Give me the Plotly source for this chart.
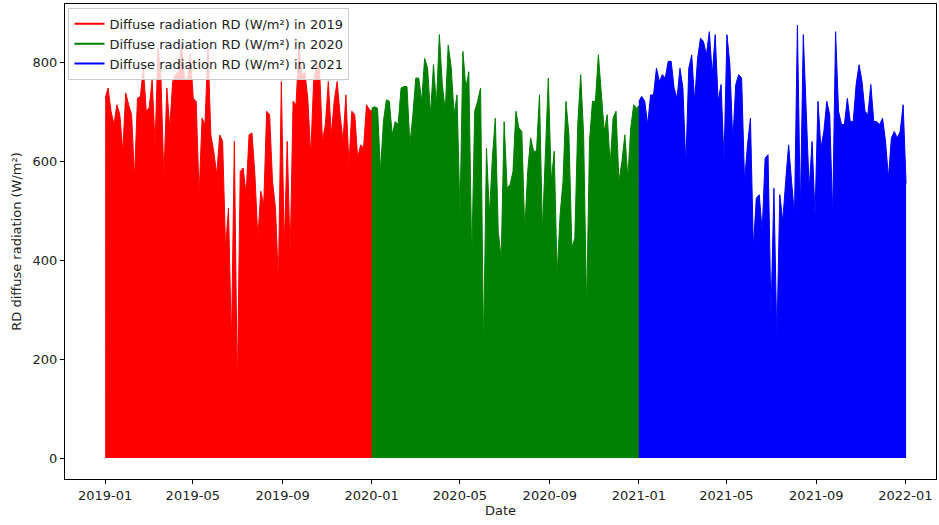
import pandas as pd
import plotly.graph_objects as go

rd_2019 = [728, 749, 702, 675, 715, 695, 620, 739, 715, 695, 567, 728, 732, 790, 702, 709,
           766, 634, 830, 769, 567, 749, 668, 762, 776, 782, 838, 769, 762, 820, 728, 722,
           533, 688, 675, 835, 654, 620, 573, 654, 641, 425, 506, 230, 641, 135, 580, 587,
           533, 654, 658, 573, 445, 540, 513, 702, 695, 560, 506, 358, 762, 425, 641, 412,
           722, 715, 835, 776, 782, 728, 613, 762, 796, 790, 641, 675, 762, 654, 722, 762,
           695, 641, 735, 593, 702, 695, 607, 634, 627, 715, 705, 702]
rd_2020 = [708, 711, 708, 580, 681, 725, 722, 654, 681, 675, 749, 752, 752, 634, 695, 769,
           769, 722, 809, 789, 695, 796, 715, 857, 756, 702, 836, 792, 695, 735, 492, 823,
           749, 782, 400, 702, 722, 749, 220, 627, 492, 607, 688, 458, 404, 681, 546, 553,
           580, 702, 668, 661, 459, 580, 648, 621, 621, 735, 459, 600, 769, 560, 621, 371,
           492, 560, 722, 654, 425, 445, 675, 776, 654, 300, 641, 722, 722, 816, 735, 661,
           695, 593, 688, 702, 560, 600, 654, 567, 668, 715, 708, 715]
rd_2021 = [722, 732, 722, 675, 735, 735, 789, 762, 776, 769, 803, 803, 749, 728, 789, 749,
           594, 789, 816, 722, 809, 850, 843, 816, 863, 776, 857, 722, 756, 601, 857, 796,
           641, 756, 776, 769, 560, 634, 688, 425, 526, 533, 459, 607, 614, 290, 546, 240,
           533, 479, 560, 634, 560, 492, 876, 499, 857, 695, 546, 641, 492, 722, 627, 661,
           722, 695, 492, 863, 702, 675, 675, 728, 681, 681, 756, 796, 762, 702, 695, 756,
           681, 681, 675, 688, 641, 567, 648, 661, 648, 661, 715, 556]

years = [2019, 2020, 2021]
series = [rd_2019, rd_2020, rd_2021]
colors = ["#ff0000", "#008000", "#0000ff"]

fig = go.Figure()
for year, vals, col in zip(years, series, colors):
    dates = pd.date_range(f"{year}-01-01", f"{year + 1}-01-02", periods=len(vals))
    fig.add_trace(go.Scatter(
        x=dates, y=vals, mode="lines",
        line=dict(color=col, width=1),
        fill="tozeroy", fillcolor=col,
        showlegend=False, hoverinfo="skip",
    ))
# legend entries drawn as plain lines, like the original
for year, col in zip(years, colors):
    fig.add_trace(go.Scatter(
        x=[None], y=[None], mode="lines",
        line=dict(color=col, width=2),
        name=f"Diffuse radiation RD (W/m²) in {year}",
    ))

font = dict(family="DejaVu Sans, sans-serif", size=13, color="#222")
fig.update_layout(
    width=939, height=525,
    margin=dict(l=65, r=3, t=4, b=46),
    paper_bgcolor="white", plot_bgcolor="white",
    font=font,
    showlegend=True,
    legend=dict(x=0.004, y=0.992, xanchor="left", yanchor="top",
                bgcolor="rgba(255,255,255,0.8)", bordercolor="#cccccc", borderwidth=1,
                font=dict(family="DejaVu Sans, sans-serif", size=13, color="#222"),
                tracegroupgap=0, itemwidth=30),
)
fig.update_xaxes(
    range=["2018-11-07", "2022-02-12"],
    tickvals=["2019-01-01", "2019-05-01", "2019-09-01", "2020-01-01", "2020-05-01",
              "2020-09-01", "2021-01-01", "2021-05-01", "2021-09-01", "2022-01-01"],
    ticktext=["2019-01", "2019-05", "2019-09", "2020-01", "2020-05",
              "2020-09", "2021-01", "2021-05", "2021-09", "2022-01"],
    showgrid=False, zeroline=False, automargin=False,
    showline=True, linecolor="black", linewidth=1, mirror=True,
    ticks="outside", ticklen=4, tickcolor="black",
    title=dict(text="Date", standoff=4, font=font),
)
fig.update_yaxes(
    range=[-42.5, 919],
    tickvals=[0, 200, 400, 600, 800],
    showgrid=False, zeroline=False, automargin=False,
    showline=True, linecolor="black", linewidth=1, mirror=True,
    ticks="outside", ticklen=4, tickcolor="black",
    title=dict(text="RD diffuse radiation (W/m²)", standoff=8, font=font),
)

fig.write_html("out.html",
               config={"displayModeBar": False},
               post_script="document.body.style.margin='0';document.body.style.overflow='hidden';")
